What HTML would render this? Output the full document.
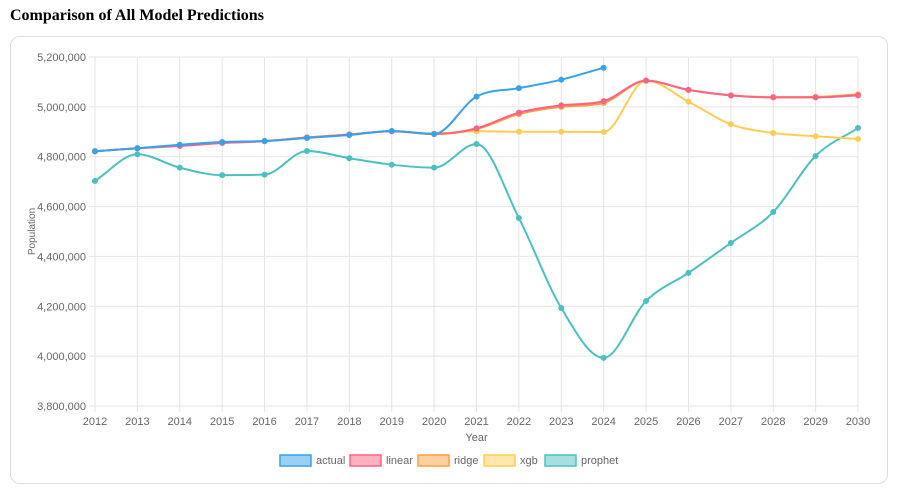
<!DOCTYPE html>
<html><head><meta charset="utf-8"><style>
body{margin:0;background:#fff;font-family:"Liberation Sans",Arial,sans-serif;}
#title{position:absolute;left:10px;top:7px;font:bold 16px "Liberation Serif",serif;color:#000;margin:0}
#card{position:absolute;left:10px;top:36px;width:878px;height:448px;border:1px solid #ddd;border-radius:10px;box-sizing:border-box}
svg{position:absolute;left:0;top:0}
</style></head><body>
<h1 id="title">Comparison of All Model Predictions</h1>
<div id="card"></div>
<svg id="chart" width="900" height="495"></svg>
<script>
const years=[2012,2013,2014,2015,2016,2017,2018,2019,2020,2021,2022,2023,2024,2025,2026,2027,2028,2029,2030];
const yTicks=[3800000,4000000,4200000,4400000,4600000,4800000,5000000,5200000];
const actualVals=[4822000,4834000,4848000,4859000,4863000,4875000,4887000,4903000,4891000,5041000,5075000,5109000,5157000,null,null,null,null,null,null];
const linearVals=[4822000,4834000,4843000,4855000,4862000,4877000,4889000,4902000,4891000,4914000,4977000,5006000,5023000,5105000,5068000,5046000,5038000,5038000,5046000];
const ridgeVals=[4822000,4834000,4844000,4856000,4863000,4877000,4889000,4902000,4891000,4911000,4971000,5000000,5016000,5105000,5068000,5046000,5039000,5040000,5050000];
const xgbVals=[4822000,4834000,4845000,4857000,4863000,4877000,4889000,4902000,4893000,4902000,4900000,4900000,4899000,5105000,5021000,4930000,4895000,4882000,4871000];
const prophetVals=[4703000,4810000,4756000,4726000,4728000,4823000,4794000,4768000,4756000,4851000,4554000,4193000,3993000,4221000,4334000,4454000,4578000,4803000,4915000];
const seriesNames=['actual','linear','ridge','xgb','prophet'];
const seriesData=[actualVals,linearVals,ridgeVals,xgbVals,prophetVals];
const colors=['#36A2EB','#FF6384','#FF9F40','#FFCD56','#4BC0C0'];
const fills=['rgba(54,162,235,0.5)','rgba(255,99,132,0.5)','rgba(255,159,64,0.5)','rgba(255,205,86,0.5)','rgba(75,192,192,0.5)'];
const X0=95,X1=858,Y0=406,Y1=57,VMIN=3800000,VMAX=5200000;
const xs=i=>X0+(X1-X0)*i/(years.length-1);
const ys=v=>Y0-(v-VMIN)/(VMAX-VMIN)*(Y0-Y1);
const svg=document.getElementById('chart');const NS='http://www.w3.org/2000/svg';
function mk(t,a,p){const e=document.createElementNS(NS,t);for(const k in a)e.setAttribute(k,a[k]);(p||svg).appendChild(e);return e;}
const grid=mk('g',{});


yTicks.forEach(v=>{
  mk('line',{x1:X0-6,x2:X1,y1:ys(v),y2:ys(v),stroke:'#e5e5e5'},grid);
  const t=mk('text',{x:X0-9,y:ys(v)+4,'text-anchor':'end','font-size':'11',fill:'#666'});
  t.textContent=v.toLocaleString('en-US');
  
  
});
years.forEach((yr,i)=>{
  mk('line',{x1:xs(i),x2:xs(i),y1:Y1,y2:Y0+6,stroke:'#e5e5e5'},grid);
  const t=mk('text',{x:xs(i),y:Y0+19,'text-anchor':'middle','font-size':'11',fill:'#666'});
  t.textContent=yr;
  
  
});
let t=mk('text',{x:(X0+X1)/2,y:441,'text-anchor':'middle','font-size':'11',fill:'#666'});t.textContent='Year';


t=mk('text',{x:0,y:0,'text-anchor':'middle','font-size':'10',fill:'#666',transform:'translate(35,'+((Y0+Y1)/2)+') rotate(-90)'});t.textContent='Population';


function path(pts){
  const n=pts.length;const dk=[],m=[];
  for(let i=0;i<n-1;i++)dk.push((pts[i+1][1]-pts[i][1])/(pts[i+1][0]-pts[i][0]));
  for(let i=0;i<n;i++){
    if(i===0)m.push(dk[0]);else if(i===n-1)m.push(dk[n-2]);
    else m.push(Math.sign(dk[i-1])!==Math.sign(dk[i])||dk[i-1]===0?0:(dk[i-1]+dk[i])/2);
  }
  for(let i=0;i<n-1;i++){
    if(dk[i]===0){m[i]=0;m[i+1]=0;continue;}
    const a=m[i]/dk[i],b=m[i+1]/dk[i],s=a*a+b*b;
    if(s>9){const tt=3/Math.sqrt(s);m[i]=tt*a*dk[i];m[i+1]=tt*b*dk[i];}
  }
  let d='M'+pts[0][0]+','+pts[0][1];
  for(let i=1;i<n;i++){const p=pts[i-1],q=pts[i],h=(q[0]-p[0])/3;
    d+=' C'+(p[0]+h)+','+(p[1]+m[i-1]*h)+' '+(q[0]-h)+','+(q[1]-m[i]*h)+' '+q[0]+','+q[1];}
  return d;
}
[4,3,2,1,0].forEach(s=>{
  const g=mk('g',{});
  
  
  const pts=[];seriesData[s].forEach((v,i)=>{if(v!=null)pts.push([xs(i),ys(v)]);});
  mk('path',{d:path(pts),fill:'none',stroke:colors[s],'stroke-width':2},g);
  pts.forEach(p=>{const c=mk('circle',{cx:p[0],cy:p[1],r:2.5,fill:colors[s],stroke:colors[s]},g);
    
    });
});
const legX=[280,350,418,484,545];
seriesNames.forEach((n,s)=>{
  const g=mk('g',{});
  
  
  mk('rect',{x:legX[s],y:455,width:31,height:11,fill:fills[s],stroke:colors[s],'stroke-width':1.5},g);
  const tt=mk('text',{x:legX[s]+36,y:464,'font-size':'11',fill:'#666'},g);tt.textContent=n;
});
</script>
</body></html>
